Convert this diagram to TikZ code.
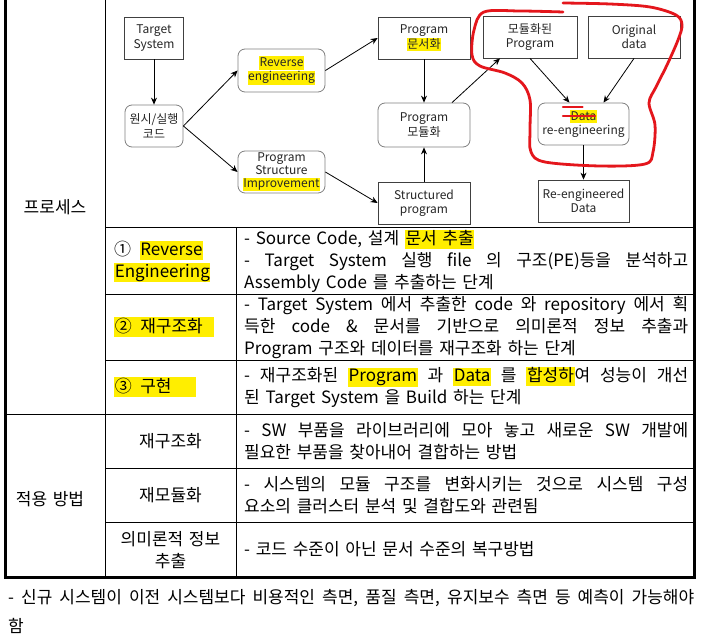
\documentclass[tikz,border=0pt]{standalone}
\usepackage{fontspec}
\setmainfont{Noto Sans CJK KR}[WordSpace=1.5]
\usepackage{tikz}
\usetikzlibrary{arrows.meta, calc}

\definecolor{hlyel}{RGB}{255,238,0}
\definecolor{penred}{RGB}{228,22,28}
\newcommand{\dgfont}{\fontsize{12}{14.5}\selectfont}
\newcommand{\tabfont}{\fontsize{17}{22}\selectfont}
\newcommand{\notefont}{\fontsize{17}{29}\selectfont}
\newcommand{\hlt}[1]{\begingroup\setlength{\fboxsep}{0.6pt}\colorbox{hlyel}{\rule[-0.22em]{0pt}{1em}#1}\endgroup}

\begin{document}
\begin{tikzpicture}[x=1pt, y=-1pt,
  >=Stealth,
  box/.style={draw=black!75, line width=0.8pt, minimum width=92pt, minimum height=42pt,
    align=center, inner sep=1pt, font=\dgfont, text=black!85},
  rbox/.style={box, draw=black!50, rounded corners=7pt},
  arr/.style={-{Stealth[length=7pt,width=6pt]}, line width=0.8pt},
  gridline/.style={line width=1pt},
  borderline/.style={line width=3pt},
  cell/.style={anchor=west, text width=444pt, align=justify, inner sep=0pt, font=\tabfont},
  lead/.style={anchor=west, align=left, inner sep=0pt, font=\tabfont},
  head/.style={align=center, inner sep=0pt, font=\tabfont},
  loop/.style={draw=penred, line width=2.8pt, line cap=round, line join=round},
]

\fill[white] (0,0) rectangle (704,639);
\useasboundingbox (0,0) rectangle (704,639);

% --- Process diagram (top row) ---
\node[box, minimum width=59pt] (tgt) at (154,38) {Target\\System};
\node[rbox, minimum width=58pt] (src) at (154,126) {원시/실행\\코드};
\node[rbox, minimum width=87pt, minimum height=43pt] (rev) at (281.5,70.5) {\hlt{Reverse}\\\hlt{engineering}};
\node[rbox, minimum width=87pt, font={\fontsize{12}{13}\selectfont}] (psi) at (281.5,172)
  {Program\\Structure\\\hlt{Improvement}};

\node[box] (doc) at (424,38) {Program\\\hlt{문서화}};
\node[rbox, minimum height=44pt] (mod) at (424,125) {Program\\모듈화};
\node[box] (spg) at (424,203) {Structured\\program};

\node[box, minimum width=94pt] (mpg) at (530,37) {모듈화된\\Program};
\node[box] (odt) at (634,37) {Original\\data};
\node[rbox, minimum width=91pt] (dre) at (583.5,124) {\hlt{Data}\\re-engineering};
\node[box, minimum width=91pt] (red) at (583.5,201) {Re-engineered\\Data};

\draw[arr] (tgt) -- (src);
\draw[arr] (src.east) -- (rev.west);
\draw[arr] (src.east) -- (psi.west);
\draw[arr] (rev.east) -- (doc.west);
\draw[arr] (psi.east) -- (spg.west);
\draw[arr] (doc) -- (mod);
\draw[arr] (spg) -- (mod);
\draw[arr] ([xshift=28pt]mod.north) -- ([xshift=-30pt]mpg.south);
\draw[arr] (mpg.south) -- ([xshift=-14pt]dre.north);
\draw[arr] (odt.south) -- ([xshift=20pt]dre.north);
\draw[arr] (dre) -- (red);

% hand drawn red marks
\draw[loop] plot[smooth, tension=0.55] coordinates {(563,12) (520,11) (484,12) (474,30)
  (472,55) (480,66) (505,73) (522,83) (530,100) (530,130) (531,152) (545,162) (600,166)
  (645,164) (653,152) (655,125) (649,103) (656,87) (667,65) (678,40) (682,25) (676,15)
  (650,7) (610,4) (563,3)};
\draw[loop, line width=2.4pt] ($(dre.center)+(-20.5,-17)$) -- ($(dre.center)+(-1,-17)$);
\draw[loop, line width=2.4pt] ($(dre.center)+(-20.5,-8)$) -- ($(dre.center)+(11.5,-8)$);

% --- Table frame ---
\draw[gridline] (105,0) -- (105,577);
\draw[gridline] (236,228) -- (236,577);
\foreach \y in {228,294,360,468,522}
  \draw[gridline] (105,\y) -- (694,\y);
\draw[gridline] (5.5,414) -- (694,414);
\draw[borderline] (5.5,0) -- (5.5,577) -- (694,577) -- (694,0);

% --- Process rows ---
\node[head] (proc) at (55,207) {프로세스};

\node[lead] (s1) at (114,261.5) {①\hspace{0.5em}\hlt{Reverse}\\\hlt{Engineering}};
\node[cell] (d1) at (244,261.5) {- Source Code, 설계 \hlt{문서 추출}\\- Target System 실행 file 의 구조(PE)등을 분석하고\linebreak
  Assembly Code 를 추출하는 단계};

\node[lead] (s2) at (114,327) {\hlt{②\hspace{0.5em}재구조화\hspace{0.6em}}};
\node[cell] (d2) at (244,327.5) {- Target System 에서 추출한 code 와 repository 에서 획\linebreak
  득한 code \& 문서를 기반으로 의미론적 정보 추출과\linebreak
  Program 구조와 데이터를 재구조화 하는 단계};

\node[lead] (s3) at (114,387) {\hlt{③\hspace{0.5em}구현\hspace{1.4em}}};
\node[cell] (d3) at (244,387.5) {- 재구조화된 \hlt{Program} 과 \hlt{Data} 를 \hlt{합성하}여 성능이 개선\linebreak
  된 Target System 을 Build 하는 단계};

% --- Application rows ---
\node[head] (apply) at (50,499) {적용 방법};

\node[head] (m1) at (170.5,441) {재구조화};
\node[cell] (e1) at (244,441) {- SW 부품을 라이브러리에 모아 놓고 새로운 SW 개발에\linebreak
  필요한 부품을 찾아내어 결합하는 방법};

\node[head] (m2) at (170.5,495) {재모듈화};
\node[cell] (e2) at (244,495) {- 시스템의 모듈 구조를 변화시키는 것으로 시스템 구성\linebreak
  요소의 클러스터 분석 및 결합도와 관련됨};

\node[head] (m3) at (170.5,550) {의미론적 정보\\추출};
\node[cell] (e3) at (244,549.5) {- 코드 수준이 아닌 문서 수준의 복구방법};

% --- note below the table ---
\node[anchor=west, text width=686pt, align=justify, inner sep=0pt, font=\notefont] (note) at (8,611.5)
  {- 신규 시스템이 이전 시스템보다 비용적인 측면, 품질 측면, 유지보수 측면 등 예측이 가능해야\linebreak 함};

\end{tikzpicture}
\end{document}
